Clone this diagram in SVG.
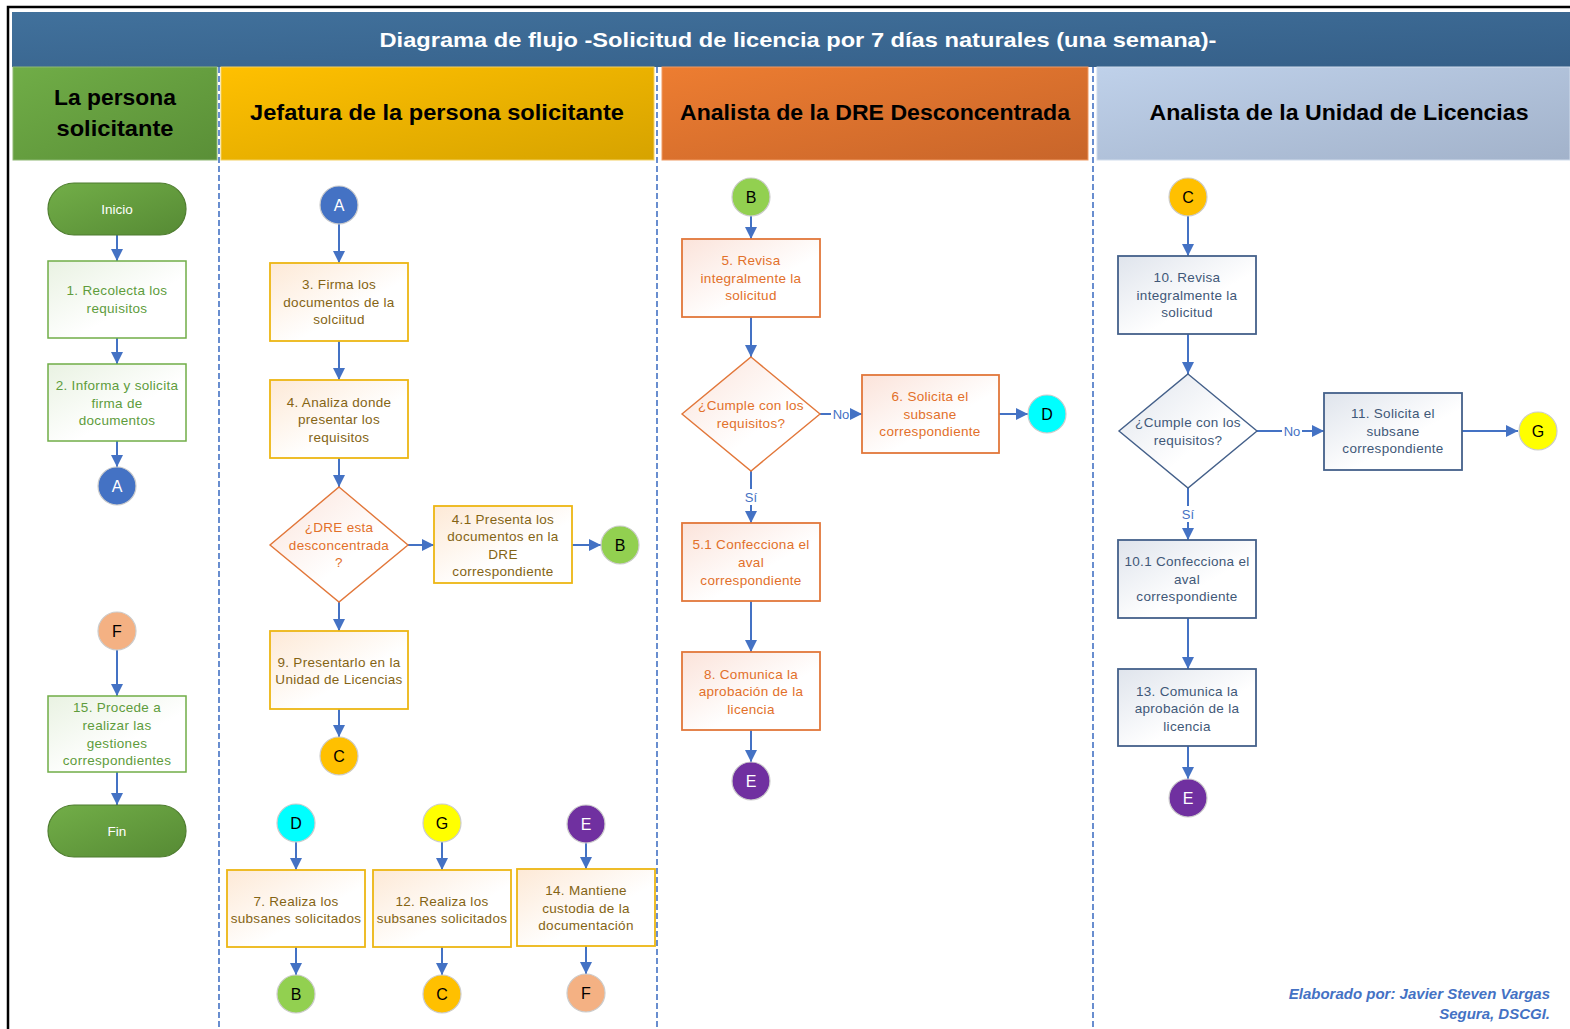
<svg xmlns="http://www.w3.org/2000/svg" width="1570" height="1029" viewBox="0 0 1570 1029">
<defs>
<linearGradient id="gTitle" x1="0" y1="0" x2="1" y2="1"><stop offset="0" stop-color="#41719C"/><stop offset="1" stop-color="#355F88"/></linearGradient>
<linearGradient id="gHGreen" x1="0" y1="0" x2="1" y2="1"><stop offset="0" stop-color="#70AD47"/><stop offset="1" stop-color="#5A8F37"/></linearGradient>
<linearGradient id="gHGold" x1="0" y1="0" x2="1" y2="1"><stop offset="0" stop-color="#FFC000"/><stop offset="1" stop-color="#D6A300"/></linearGradient>
<linearGradient id="gHOrange" x1="0" y1="0" x2="1" y2="1"><stop offset="0" stop-color="#ED7D31"/><stop offset="1" stop-color="#C8652A"/></linearGradient>
<linearGradient id="gHBlue" x1="0" y1="0" x2="1" y2="1"><stop offset="0" stop-color="#BFD1EA"/><stop offset="1" stop-color="#A2B2CA"/></linearGradient>
<linearGradient id="gTerm" x1="0" y1="0" x2="1" y2="1"><stop offset="0" stop-color="#72AE48"/><stop offset="1" stop-color="#568A34"/></linearGradient>
<linearGradient id="gBGreen" x1="0" y1="0" x2="1" y2="1"><stop offset="0" stop-color="#E9F2E2"/><stop offset="0.6" stop-color="#FFFFFF"/></linearGradient>
<linearGradient id="gBGold" x1="0" y1="0" x2="1" y2="1"><stop offset="0" stop-color="#FDE9D6"/><stop offset="0.6" stop-color="#FFFFFF"/></linearGradient>
<linearGradient id="gBOrange" x1="0" y1="0" x2="1" y2="1"><stop offset="0" stop-color="#FBE3DA"/><stop offset="0.6" stop-color="#FFFFFF"/></linearGradient>
<linearGradient id="gBBlue" x1="0" y1="0" x2="1" y2="1"><stop offset="0" stop-color="#DFE4EC"/><stop offset="0.6" stop-color="#FFFFFF"/></linearGradient>
<marker id="arr" viewBox="0 0 10 10" markerUnits="userSpaceOnUse" markerWidth="12" markerHeight="12" refX="10" refY="5" orient="auto"><path d="M0,0 L10,5 L0,10 z" fill="#4472C4"/></marker>
</defs>
<style>
.hdr{font-family:"Liberation Sans",Arial,sans-serif;font-weight:bold;font-size:22px;fill:#000;text-anchor:middle}
.ttl{font-family:"Liberation Sans",Arial,sans-serif;font-weight:bold;font-size:21px;fill:#fff;text-anchor:middle}
.t{font-family:"Liberation Sans",Arial,sans-serif;font-size:13.5px;letter-spacing:0.3px;text-anchor:middle}
.tg{fill:#5E9C3C}.ty{fill:#846414}.to{fill:#E2702A}.tb{fill:#3F5878}
.bg{fill:url(#gBGreen);stroke:#70AD47;stroke-width:1.5}
.by{fill:url(#gBGold);stroke:#EDB613;stroke-width:1.8}
.bo{fill:url(#gBOrange);stroke:#E2773A;stroke-width:1.8}
.bb{fill:url(#gBBlue);stroke:#44608A;stroke-width:1.8}
.dia{stroke-width:1.4}
.term{fill:url(#gTerm);stroke:#4F7D30;stroke-width:1.2}
.tw{font-family:"Liberation Sans",Arial,sans-serif;font-size:13.5px;fill:#fff;text-anchor:middle}
.cir{stroke:#CCCCCC;stroke-width:1.2}
.cl{font-family:"Liberation Sans",Arial,sans-serif;font-size:16px;text-anchor:middle}
.sep{stroke:#4472C4;stroke-width:1.6;stroke-dasharray:6 3;fill:none}
.c{stroke:#4472C4;stroke-width:2;fill:none;marker-end:url(#arr)}
.cn{stroke:#4472C4;stroke-width:2;fill:none}
.lbl{font-family:"Liberation Sans",Arial,sans-serif;font-size:13px;fill:#4472C4;text-anchor:middle}
.foot{font-family:"Liberation Sans",Arial,sans-serif;font-size:15px;font-weight:bold;font-style:italic;fill:#4472C4;text-anchor:end}
</style>
<rect x="0" y="0" width="1570" height="1029" fill="#FFFFFF"/>
<rect x="8" y="7" width="1580" height="1040" fill="none" stroke="#000" stroke-width="2.5"/>

<g id="title">
<rect x="12" y="12" width="1558" height="55" fill="url(#gTitle)"/>
<text class="ttl" x="798" y="47" textLength="837" lengthAdjust="spacingAndGlyphs">Diagrama de flujo -Solicitud de licencia por 7 días naturales (una semana)-</text>
</g>

<g id="lanes">
<rect x="13" y="67" width="204" height="93" fill="url(#gHGreen)" stroke="#8DB873" stroke-width="1"/>
<text class="hdr" x="115" y="105" textLength="122" lengthAdjust="spacingAndGlyphs">La persona</text>
<text class="hdr" x="115" y="136" textLength="117" lengthAdjust="spacingAndGlyphs">solicitante</text>
<rect x="221" y="67" width="433" height="93" fill="url(#gHGold)" stroke="#F3D060" stroke-width="1"/>
<text class="hdr" x="437" y="120" textLength="374" lengthAdjust="spacingAndGlyphs">Jefatura de la persona solicitante</text>
<rect x="662" y="67" width="426" height="93" fill="url(#gHOrange)" stroke="#F09A62" stroke-width="1"/>
<text class="hdr" x="875" y="120" textLength="390" lengthAdjust="spacingAndGlyphs">Analista de la DRE Desconcentrada</text>
<rect x="1097" y="67" width="473" height="93" fill="url(#gHBlue)" stroke="#D0DCEC" stroke-width="1"/>
<text class="hdr" x="1339" y="120" textLength="379" lengthAdjust="spacingAndGlyphs">Analista de la Unidad de Licencias</text>
<line class="sep" x1="219" y1="67" x2="219" y2="1029"/>
<line class="sep" x1="657" y1="67" x2="657" y2="1029"/>
<line class="sep" x1="1093" y1="67" x2="1093" y2="1029"/>
</g>

<g id="connectors">
<line class="c" x1="117" y1="235" x2="117" y2="261"/>
<line class="c" x1="117" y1="338" x2="117" y2="364"/>
<line class="c" x1="117" y1="441" x2="117" y2="467"/>
<line class="c" x1="117" y1="650" x2="117" y2="696"/>
<line class="c" x1="117" y1="772" x2="117" y2="805"/>
<line class="c" x1="339" y1="224" x2="339" y2="263"/>
<line class="c" x1="339" y1="341" x2="339" y2="380"/>
<line class="c" x1="339" y1="458" x2="339" y2="487"/>
<line class="c" x1="408" y1="545" x2="434" y2="545"/>
<line class="c" x1="572" y1="545" x2="601" y2="545"/>
<line class="c" x1="339" y1="602" x2="339" y2="631"/>
<line class="c" x1="339" y1="709" x2="339" y2="737"/>
<line class="c" x1="296" y1="842" x2="296" y2="870"/>
<line class="c" x1="296" y1="947" x2="296" y2="975"/>
<line class="c" x1="442" y1="842" x2="442" y2="870"/>
<line class="c" x1="442" y1="947" x2="442" y2="975"/>
<line class="c" x1="586" y1="843" x2="586" y2="869"/>
<line class="c" x1="586" y1="946" x2="586" y2="974"/>
<line class="c" x1="751" y1="216" x2="751" y2="239"/>
<line class="c" x1="751" y1="317" x2="751" y2="357"/>
<line class="cn" x1="820" y1="414" x2="831" y2="414"/>
<line class="c" x1="851" y1="414" x2="862" y2="414"/>
<line class="c" x1="999" y1="414" x2="1028" y2="414"/>
<line class="cn" x1="751" y1="471" x2="751" y2="489"/>
<line class="c" x1="751" y1="505" x2="751" y2="523"/>
<line class="c" x1="751" y1="601" x2="751" y2="652"/>
<line class="c" x1="751" y1="730" x2="751" y2="762"/>
<line class="c" x1="1188" y1="216" x2="1188" y2="256"/>
<line class="c" x1="1188" y1="334" x2="1188" y2="374"/>
<line class="cn" x1="1257" y1="431" x2="1282" y2="431"/>
<line class="c" x1="1302" y1="431" x2="1324" y2="431"/>
<line class="c" x1="1462" y1="431" x2="1518" y2="431"/>
<line class="cn" x1="1188" y1="488" x2="1188" y2="506"/>
<line class="c" x1="1188" y1="522" x2="1188" y2="540"/>
<line class="c" x1="1188" y1="618" x2="1188" y2="669"/>
<line class="c" x1="1188" y1="746" x2="1188" y2="779"/>
<text class="lbl" x="841" y="419">No</text>
<text class="lbl" x="751" y="502">Sí</text>
<text class="lbl" x="1292" y="436">No</text>
<text class="lbl" x="1188" y="519">Sí</text>
</g>

<g id="inicio"><rect class="term" x="48" y="183" width="138" height="52" rx="26"/><text class="tw" x="117" y="214">Inicio</text></g>
<g id="n1"><rect class="bg" x="48" y="261" width="138" height="77"/><text class="t tg" x="117" y="295">1. Recolecta los</text><text class="t tg" x="117" y="313">requisitos</text></g>
<g id="n2"><rect class="bg" x="48" y="364" width="138" height="77"/><text class="t tg" x="117" y="390">2. Informa y solicita</text><text class="t tg" x="117" y="408">firma de</text><text class="t tg" x="117" y="425">documentos</text></g>
<g id="cA1"><circle class="cir" cx="117" cy="486" r="19" fill="#4472C4"/><text class="cl" x="117" y="492" fill="#fff">A</text></g>
<g id="cF1"><circle class="cir" cx="117" cy="631" r="19" fill="#F4B183"/><text class="cl" x="117" y="637" fill="#000">F</text></g>
<g id="n15"><rect class="bg" x="48" y="696" width="138" height="76"/><text class="t tg" x="117" y="712">15. Procede a</text><text class="t tg" x="117" y="730">realizar las</text><text class="t tg" x="117" y="748">gestiones</text><text class="t tg" x="117" y="765">correspondientes</text></g>
<g id="fin"><rect class="term" x="48" y="805" width="138" height="52" rx="26"/><text class="tw" x="117" y="836">Fin</text></g>

<g id="cA2"><circle class="cir" cx="339" cy="205" r="19" fill="#4472C4"/><text class="cl" x="339" y="211" fill="#fff">A</text></g>
<g id="n3"><rect class="by" x="270" y="263" width="138" height="78"/><text class="t ty" x="339" y="289">3. Firma los</text><text class="t ty" x="339" y="307">documentos de la</text><text class="t ty" x="339" y="324">solciitud</text></g>
<g id="n4"><rect class="by" x="270" y="380" width="138" height="78"/><text class="t ty" x="339" y="407">4. Analiza donde</text><text class="t ty" x="339" y="424">presentar los</text><text class="t ty" x="339" y="442">requisitos</text></g>
<g id="d1"><polygon class="bo dia" points="339,487 408,545 339,602 270,545"/><text class="t to" x="339" y="532">¿DRE esta</text><text class="t to" x="339" y="550">desconcentrada</text><text class="t to" x="339" y="567">?</text></g>
<g id="n41"><rect class="by" x="434" y="506" width="138" height="77"/><text class="t ty" x="503" y="524">4.1 Presenta los</text><text class="t ty" x="503" y="541">documentos en la</text><text class="t ty" x="503" y="559">DRE</text><text class="t ty" x="503" y="576">correspondiente</text></g>
<g id="cB1"><circle class="cir" cx="620" cy="545" r="19" fill="#92D050"/><text class="cl" x="620" y="551" fill="#000">B</text></g>
<g id="n9"><rect class="by" x="270" y="631" width="138" height="78"/><text class="t ty" x="339" y="667">9. Presentarlo en la</text><text class="t ty" x="339" y="684">Unidad de Licencias</text></g>
<g id="cC1"><circle class="cir" cx="339" cy="756" r="19" fill="#FFC000"/><text class="cl" x="339" y="762" fill="#000">C</text></g>

<g id="cD2"><circle class="cir" cx="296" cy="823" r="19" fill="#00FFFF"/><text class="cl" x="296" y="829" fill="#000">D</text></g>
<g id="n7"><rect class="by" x="227" y="870" width="138" height="77"/><text class="t ty" x="296" y="906">7. Realiza los</text><text class="t ty" x="296" y="923">subsanes solicitados</text></g>
<g id="cB2"><circle class="cir" cx="296" cy="994" r="19" fill="#92D050"/><text class="cl" x="296" y="1000" fill="#000">B</text></g>
<g id="cG2"><circle class="cir" cx="442" cy="823" r="19" fill="#FFFF00"/><text class="cl" x="442" y="829" fill="#000">G</text></g>
<g id="n12"><rect class="by" x="373" y="870" width="138" height="77"/><text class="t ty" x="442" y="906">12. Realiza los</text><text class="t ty" x="442" y="923">subsanes solicitados</text></g>
<g id="cC2"><circle class="cir" cx="442" cy="994" r="19" fill="#FFC000"/><text class="cl" x="442" y="1000" fill="#000">C</text></g>
<g id="cE2"><circle class="cir" cx="586" cy="824" r="19" fill="#7030A0"/><text class="cl" x="586" y="830" fill="#fff">E</text></g>
<g id="n14"><rect class="by" x="517" y="869" width="138" height="77"/><text class="t ty" x="586" y="895">14. Mantiene</text><text class="t ty" x="586" y="913">custodia de la</text><text class="t ty" x="586" y="930">documentación</text></g>
<g id="cF2"><circle class="cir" cx="586" cy="993" r="19" fill="#F4B183"/><text class="cl" x="586" y="999" fill="#000">F</text></g>

<g id="cB3"><circle class="cir" cx="751" cy="197" r="19" fill="#92D050"/><text class="cl" x="751" y="203" fill="#000">B</text></g>
<g id="n5"><rect class="bo" x="682" y="239" width="138" height="78"/><text class="t to" x="751" y="265">5. Revisa</text><text class="t to" x="751" y="283">integralmente la</text><text class="t to" x="751" y="300">solicitud</text></g>
<g id="d2"><polygon class="bo dia" points="751,357 820,414 751,471 682,414"/><text class="t to" x="751" y="410">¿Cumple con los</text><text class="t to" x="751" y="428">requisitos?</text></g>
<g id="n6"><rect class="bo" x="862" y="375" width="137" height="78"/><text class="t to" x="930" y="401">6. Solicita el</text><text class="t to" x="930" y="419">subsane</text><text class="t to" x="930" y="436">correspondiente</text></g>
<g id="cD3"><circle class="cir" cx="1047" cy="414" r="19" fill="#00FFFF"/><text class="cl" x="1047" y="420" fill="#000">D</text></g>
<g id="n51"><rect class="bo" x="682" y="523" width="138" height="78"/><text class="t to" x="751" y="549">5.1 Confecciona el</text><text class="t to" x="751" y="567">aval</text><text class="t to" x="751" y="585">correspondiente</text></g>
<g id="n8"><rect class="bo" x="682" y="652" width="138" height="78"/><text class="t to" x="751" y="679">8. Comunica la</text><text class="t to" x="751" y="696">aprobación de la</text><text class="t to" x="751" y="714">licencia</text></g>
<g id="cE3"><circle class="cir" cx="751" cy="781" r="19" fill="#7030A0"/><text class="cl" x="751" y="787" fill="#fff">E</text></g>

<g id="cC4"><circle class="cir" cx="1188" cy="197" r="19" fill="#FFC000"/><text class="cl" x="1188" y="203" fill="#000">C</text></g>
<g id="n10"><rect class="bb" x="1118" y="256" width="138" height="78"/><text class="t tb" x="1187" y="282">10. Revisa</text><text class="t tb" x="1187" y="300">integralmente la</text><text class="t tb" x="1187" y="317">solicitud</text></g>
<g id="d3"><polygon class="bb dia" points="1188,374 1257,431 1188,488 1119,431"/><text class="t tb" x="1188" y="427">¿Cumple con los</text><text class="t tb" x="1188" y="445">requisitos?</text></g>
<g id="n11"><rect class="bb" x="1324" y="393" width="138" height="77"/><text class="t tb" x="1393" y="418">11. Solicita el</text><text class="t tb" x="1393" y="436">subsane</text><text class="t tb" x="1393" y="453">correspondiente</text></g>
<g id="cG4"><circle class="cir" cx="1538" cy="431" r="19" fill="#FFFF00"/><text class="cl" x="1538" y="437" fill="#000">G</text></g>
<g id="n101"><rect class="bb" x="1118" y="540" width="138" height="78"/><text class="t tb" x="1187" y="566">10.1 Confecciona el</text><text class="t tb" x="1187" y="584">aval</text><text class="t tb" x="1187" y="601">correspondiente</text></g>
<g id="n13"><rect class="bb" x="1118" y="669" width="138" height="77"/><text class="t tb" x="1187" y="696">13. Comunica la</text><text class="t tb" x="1187" y="713">aprobación de la</text><text class="t tb" x="1187" y="731">licencia</text></g>
<g id="cE4"><circle class="cir" cx="1188" cy="798" r="19" fill="#7030A0"/><text class="cl" x="1188" y="804" fill="#fff">E</text></g>

<g id="footer">
<text class="foot" x="1550" y="999">Elaborado por: Javier Steven Vargas</text>
<text class="foot" x="1550" y="1019">Segura, DSCGI.</text>
</g>
</svg>
